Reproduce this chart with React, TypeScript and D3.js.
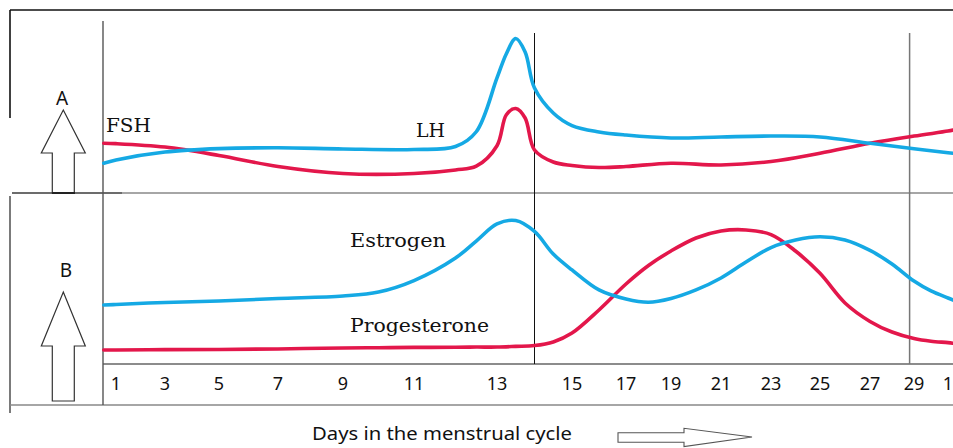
import * as d3 from "d3";

// Panel A (pituitary hormones) — sample days and relative levels
const DAYS_A = [0.5, 1, 3, 5, 7, 9, 11, 12, 12.5, 13, 13.25, 13.5, 13.75, 14, 14.5, 15, 16, 17, 19, 21, 23, 25, 27, 29, 31, 31.3];
const FSH = [2.89, 2.87, 2.67, 2.18, 1.54, 1.13, 1.13, 1.34, 1.56, 2.75, 4.55, 4.91, 4.36, 2.5, 1.8, 1.6, 1.48, 1.54, 1.73, 1.63, 1.83, 2.31, 2.89, 3.31, 3.6, 3.66];
const LH = [1.73, 1.92, 2.38, 2.58, 2.63, 2.56, 2.53, 2.7, 3.56, 6.69, 8.1, 8.98, 8.2, 6.1, 4.65, 3.92, 3.55, 3.37, 3.2, 3.26, 3.31, 3.26, 2.89, 2.57, 2.34, 2.31];

// Panel B (ovarian hormones)
const DAYS_B = [0.5, 1, 3, 5, 7, 9, 10, 11, 12, 12.5, 13, 13.5, 14, 14.5, 15, 16, 17, 18, 19, 20, 21, 22, 23, 24, 25, 26, 27, 28, 29, 30, 31, 31.3];
const ESTROGEN = [3.45, 3.48, 3.6, 3.68, 3.83, 3.98, 4.21, 4.88, 6.2, 7.19, 8.19, 8.39, 7.75, 6.43, 5.5, 4.33, 3.8, 3.61, 3.83, 4.33, 5.03, 5.96, 6.81, 7.25, 7.44, 7.25, 6.64, 5.85, 4.85, 4.27, 3.86, 3.74];
const PROGESTERONE = [0.82, 0.82, 0.84, 0.85, 0.88, 0.94, 0.95, 0.97, 0.98, 0.99, 0.99, 1.03, 1.08, 1.29, 1.81, 3.16, 4.68, 5.76, 6.61, 7.37, 7.78, 7.84, 7.57, 6.61, 5.3, 3.57, 2.49, 1.87, 1.49, 1.33, 1.25, 1.21];

// Axis ticks: cycle days (day 31 is day 1 of the next cycle)
const TICK_DAYS = [1, 3, 5, 7, 9, 11, 13, 15, 17, 19, 21, 23, 25, 27, 29, 31];
const TICK_LABELS = ["1", "3", "5", "7", "9", "11", "13", "15", "17", "19", "21", "23", "25", "27", "29", "1"];
const MARKER_DAYS = [14, 28.8];

// The hand-drawn axis is not evenly spaced, so the scale is piecewise
const TICK_PX = [116, 165, 219, 278, 343, 414, 497, 572, 626, 671, 721, 771, 820, 870, 914, 948];

const W = 953;
const H = 448;
const AXIS_X = 103;
const SEP_Y = 193;
const XAXIS_Y = 364;
const BOTTOM_Y = 405;

const BLUE = "#15a9e4";
const RED = "#e3174b";
const SERIF = "'DejaVu Serif', serif";
const SANS = "'Noto Sans', sans-serif";

const x = d3.scaleLinear().domain(TICK_DAYS).range(TICK_PX);
const yA = d3.scaleLinear().domain([0, 10]).range([SEP_Y, 21]);
const yB = d3.scaleLinear().domain([0, 10]).range([XAXIS_Y, SEP_Y]);

function pathFor(days: number[], vals: number[], y: d3.ScaleLinear<number, number>) {
  const line = d3
    .line<number>()
    .x((_d, i) => x(days[i]))
    .y((d) => y(d))
    .curve(d3.curveCatmullRom.alpha(0.5));
  return line(vals) ?? "";
}

// hollow block arrow pointing up, tip at (cx, tipY)
function upArrow(cx: number, tipY: number, headY: number, baseY: number) {
  const hw = 22;
  const sw = 11;
  return [
    [cx, tipY],
    [cx + hw, headY],
    [cx + sw, headY],
    [cx + sw, baseY],
    [cx - sw, baseY],
    [cx - sw, headY],
    [cx - hw, headY],
  ]
    .map((p) => p.join(","))
    .join(" ");
}

export default function App() {
  const series = [
    { d: pathFor(DAYS_A, FSH, yA), color: RED },
    { d: pathFor(DAYS_A, LH, yA), color: BLUE },
    { d: pathFor(DAYS_B, PROGESTERONE, yB), color: RED },
    { d: pathFor(DAYS_B, ESTROGEN, yB), color: BLUE },
  ];

  return (
    <svg
      width={W}
      height={H}
      viewBox={`0 0 ${W} ${H}`}
      style={{ position: "absolute", left: 0, top: 0, background: "#fff" }}
    >
      {/* frame */}
      <line x1={10} x2={W} y1={10} y2={10} stroke="#111" strokeWidth={1.6} />
      <line x1={10} x2={10} y1={10} y2={118} stroke="#111" strokeWidth={1.6} />
      <line x1={10} x2={10} y1={196} y2={413} stroke="#222" strokeWidth={1.2} />
      <line x1={12} x2={W} y1={SEP_Y} y2={SEP_Y} stroke="#888" strokeWidth={1.6} />
      <line x1={12} x2={122} y1={SEP_Y} y2={SEP_Y} stroke="#333" strokeWidth={1} />
      <line x1={AXIS_X} x2={W} y1={XAXIS_Y} y2={XAXIS_Y} stroke="#666" strokeWidth={1.4} />
      <line x1={10} x2={W} y1={BOTTOM_Y} y2={BOTTOM_Y} stroke="#888" strokeWidth={1.6} />
      <line x1={AXIS_X} x2={AXIS_X} y1={21} y2={BOTTOM_Y} stroke="#555" strokeWidth={1.4} />

      {/* ovulation and end-of-cycle markers */}
      {MARKER_DAYS.map((d, i) => (
        <line
          key={d}
          x1={x(d)}
          x2={x(d)}
          y1={33}
          y2={XAXIS_Y}
          stroke={i === 0 ? "#111" : "#777"}
          strokeWidth={i === 0 ? 1 : 1.5}
        />
      ))}

      {/* hormone curves */}
      {series.map((s, i) => (
        <path
          key={i}
          d={s.d}
          fill="none"
          stroke={s.color}
          strokeWidth={3.6}
          strokeLinecap="round"
          strokeLinejoin="round"
        />
      ))}

      {/* day labels */}
      {TICK_DAYS.map((d, i) => (
        <text
          key={i}
          x={x(d)}
          y={390}
          textAnchor="middle"
          fontFamily={SANS}
          fontSize={18}
          fill="#111"
        >
          {TICK_LABELS[i]}
        </text>
      ))}

      {/* curve names */}
      <g fontFamily={SERIF} fontSize={18} fill="#111">
        <text x={106} y={132} textLength={45} lengthAdjust="spacingAndGlyphs">FSH</text>
        <text x={416} y={137} textLength={29} lengthAdjust="spacingAndGlyphs">LH</text>
        <text x={350} y={247} textLength={96} lengthAdjust="spacingAndGlyphs">Estrogen</text>
        <text x={350} y={332} textLength={139} lengthAdjust="spacingAndGlyphs">Progesterone</text>
      </g>

      {/* panel letters and arrows */}
      <g fontFamily={SANS} fontSize={19} fill="#111" textAnchor="middle">
        <text x={62} y={105}>A</text>
        <text x={66} y={277}>B</text>
      </g>
      <polygon points={upArrow(63.3, 110, 153, 193)} fill="#fff" stroke="#333" strokeWidth={1.2} />
      <line x1={52} x2={75} y1={193} y2={193} stroke="#222" strokeWidth={2} />
      <polygon points={upArrow(63.3, 292, 346, 401)} fill="#fff" stroke="#333" strokeWidth={1.2} />

      {/* x axis title */}
      <text x={312} y={440} fontFamily={SANS} fontSize={18} fill="#111" textLength={260} lengthAdjust="spacingAndGlyphs">
        Days in the menstrual cycle
      </text>
      <polygon
        points="618,432.7 684,432.7 684,428.3 752,437 684,446.5 684,442.3 618,442.3"
        fill="#fff"
        stroke="#555"
        strokeWidth={1.1}
      />
    </svg>
  );
}
